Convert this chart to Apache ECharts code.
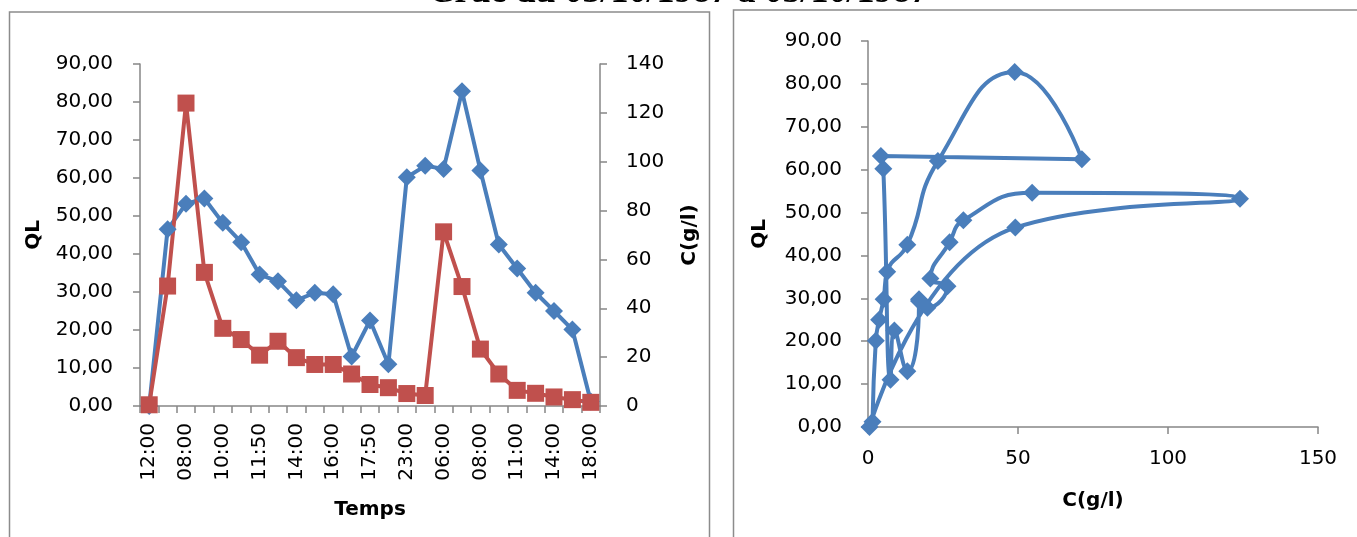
<!DOCTYPE html>
<html>
<head>
<meta charset="utf-8">
<script src="https://cdn.jsdelivr.net/npm/echarts@6/dist/echarts.min.js"></script>
<style>
html, body { margin: 0; padding: 0; background: #fff; }
#main { width: 1357px; height: 537px; }
</style>
</head>
<body>
<div id="main"></div>
<script>
// heures de mesure (seules les paires sont lisibles sur l'axe)
var temps = ['12:00','20:00','08:00','09:00','10:00','11:00','11:50','13:00','14:00','15:00',
             '16:00','17:00','17:50','20:00','23:00','02:00','06:00','07:00','08:00','10:00',
             '11:00','12:00','14:00','16:00','18:00'];
// debit liquide QL
var ql = [0, 46.5, 53.2, 54.6, 48.2, 43.1, 34.6, 32.8, 27.8, 29.8,
          29.4, 13.0, 22.5, 11.0, 60.2, 63.2, 62.4, 82.8, 62.0, 42.5,
          36.2, 29.8, 25.0, 20.1, 1.2];
// concentration C(g/l)
var conc = [0.5, 49.1, 124.0, 54.7, 31.8, 27.2, 20.8, 26.5, 19.8, 17.0,
            17.0, 13.1, 8.8, 7.5, 5.1, 4.3, 71.3, 48.9, 23.3, 13.1,
            6.4, 5.2, 3.7, 2.6, 1.5];
var titre = 'Crue du 03/10/1987 à 05/10/1987';

var bleu = '#4A7EBB';
var rouge = '#C0504D';
var gris = '#868686';
var police = 'DejaVu Sans';

var hysteresis = [];
for (var i = 0; i < ql.length; i++) {
    hysteresis.push([conc[i], ql[i]]);
}

function virgule(v) {
    return v.toFixed(2).replace('.', ',');
}

var axeLigne = { show: true, lineStyle: { color: gris, width: 1.5 } };
var axeTick = { show: true, length: 7, lineStyle: { color: gris, width: 1.5 } };
var nomStyle = { fontFamily: police, fontSize: 20, fontWeight: 'bold', color: '#000' };

var myChart = echarts.init(document.getElementById('main'));
option = {
    backgroundColor: '#fff',
    animation: false,
    graphic: [
        { type: 'rect', shape: { x: 9.5, y: 12, width: 700, height: 600 },
          style: { fill: 'none', stroke: '#8c8c8c', lineWidth: 1.5 } },
        { type: 'rect', shape: { x: 733.5, y: 10, width: 700, height: 600 },
          style: { fill: 'none', stroke: '#8c8c8c', lineWidth: 1.5 } },
        { type: 'text', left: 'center', x: 0, top: -25,
          style: { text: titre, font: 'bold 36px "Liberation Serif"', fill: '#000' } }
    ],
    grid: [
        { left: 140, right: 757, top: 64, bottom: 131 },
        { left: 868, right: 39, top: 41, bottom: 110 }
    ],
    xAxis: [
        {
            type: 'category', gridIndex: 0, data: temps, boundaryGap: true,
            name: 'Temps', nameLocation: 'middle', nameGap: 94, nameTextStyle: nomStyle,
            axisLine: axeLigne,
            axisTick: { show: true, interval: 0, length: 7, lineStyle: { color: gris, width: 1.5 } },
            axisLabel: { interval: 1, rotate: 90, margin: 17, fontFamily: police, fontSize: 20, color: '#000' }
        },
        {
            type: 'value', gridIndex: 1, min: 0, max: 150, interval: 50,
            name: 'C(g/l)', nameLocation: 'middle', nameGap: 64, nameTextStyle: nomStyle,
            splitLine: { show: false },
            axisLine: axeLigne, axisTick: axeTick,
            axisLabel: { margin: 22, fontFamily: police, fontSize: 20, color: '#000' }
        }
    ],
    yAxis: [
        {
            type: 'value', gridIndex: 0, min: 0, max: 90, interval: 10,
            name: 'QL', nameLocation: 'middle', nameGap: 96, nameTextStyle: nomStyle,
            splitLine: { show: false },
            axisLine: axeLigne, axisTick: axeTick,
            axisLabel: { margin: 27, formatter: virgule, fontFamily: police, fontSize: 20, color: '#000' }
        },
        {
            type: 'value', gridIndex: 0, position: 'right', min: 0, max: 140, interval: 20,
            name: 'C(g/l)', nameLocation: 'middle', nameGap: 80, nameTextStyle: nomStyle,
            splitLine: { show: false },
            axisLine: axeLigne, axisTick: axeTick,
            axisLabel: { margin: 26, fontFamily: police, fontSize: 20, color: '#000' }
        },
        {
            type: 'value', gridIndex: 1, min: 0, max: 90, interval: 10,
            name: 'QL', nameLocation: 'middle', nameGap: 98, nameTextStyle: nomStyle,
            splitLine: { show: false },
            axisLine: axeLigne, axisTick: axeTick,
            axisLabel: { margin: 26, formatter: virgule, fontFamily: police, fontSize: 20, color: '#000' }
        }
    ],
    series: [
        {
            name: 'QL', type: 'line', xAxisIndex: 0, yAxisIndex: 0,
            data: ql,
            showAllSymbol: true,
            symbol: 'diamond', symbolSize: 18,
            lineStyle: { color: bleu, width: 4 },
            itemStyle: { color: bleu }
        },
        {
            name: 'C(g/l)', type: 'line', xAxisIndex: 0, yAxisIndex: 1,
            data: conc,
            showAllSymbol: true,
            symbol: 'rect', symbolSize: 17,
            lineStyle: { color: rouge, width: 4 },
            itemStyle: { color: rouge }
        },
        {
            name: 'QL = f(C)', type: 'line', xAxisIndex: 1, yAxisIndex: 2,
            data: hysteresis,
            showAllSymbol: true,
            smooth: 0.5,
            symbol: 'diamond', symbolSize: 18,
            lineStyle: { color: bleu, width: 4 },
            itemStyle: { color: bleu }
        }
    ]
};
myChart.setOption(option);
</script>
</body>
</html>
